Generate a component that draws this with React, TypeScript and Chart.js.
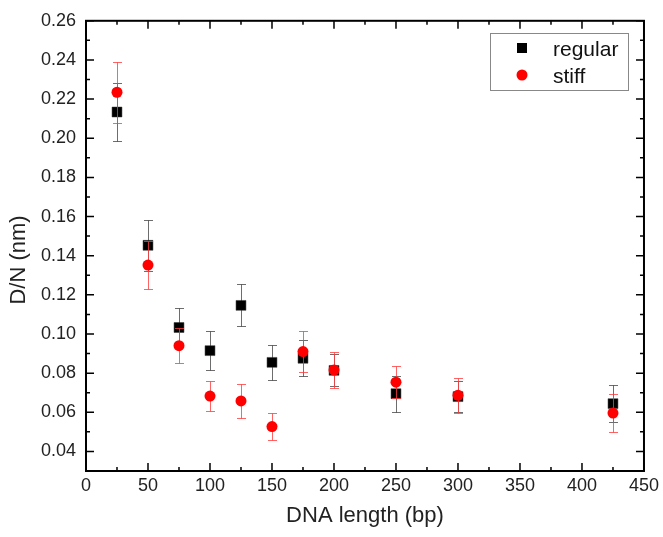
import React, { useEffect, useRef } from 'react';
import { Chart, registerables } from 'chart.js';
Chart.register(...registerables);

const lengths = [25, 50, 75, 100, 125, 150, 175, 200, 250, 300, 425];
const regularValues = [0.2134, 0.1453, 0.1033, 0.0915, 0.1146, 0.0855, 0.0876, 0.0814, 0.0695, 0.068, 0.0644];
const regularErrors = [0.015, 0.013, 0.01, 0.01, 0.0107, 0.0088, 0.0092, 0.0082, 0.0092, 0.008, 0.0095];
const stiffValues = [0.2235, 0.1352, 0.094, 0.0683, 0.0658, 0.0527, 0.091, 0.0816, 0.0754, 0.0687, 0.0596];
const stiffErrors = [0.0155, 0.0124, 0.009, 0.0075, 0.0087, 0.007, 0.0105, 0.0093, 0.008, 0.009, 0.0099];
const xTickValues = [0, 50, 100, 150, 200, 250, 300, 350, 400, 450];
const yTickValues = [0.04, 0.06, 0.08, 0.1, 0.12, 0.14, 0.16, 0.18, 0.2, 0.22, 0.24, 0.26];
const seriesNames = ['regular', 'stiff'];
const xTitle = 'DNA length (bp)';
const yTitle = 'D/N (nm)';

const FONT = '"Liberation Sans", Arial, sans-serif';
const errorSets = [regularErrors, stiffErrors];
const errorColors = ['rgba(60,60,60,0.75)', 'rgba(255,60,60,0.8)'];

const errorBarPlugin = {
  id: 'errorBars',
  beforeDatasetDraw(chart: any, args: any) {
    const i = args.index;
    const errs = errorSets[i];
    if (!errs) return;
    const ctx = chart.ctx;
    const xs = chart.scales.x;
    const ys = chart.scales.y;
    const ds = chart.data.datasets[i];
    ctx.save();
    ctx.strokeStyle = errorColors[i];
    ctx.lineWidth = 1;
    ds.data.forEach((p: any, j: number) => {
      const x = Math.round(xs.getPixelForValue(p.x)) + 0.5;
      const yt = Math.round(ys.getPixelForValue(p.y + errs[j])) + 0.5;
      const yb = Math.round(ys.getPixelForValue(p.y - errs[j])) + 0.5;
      ctx.beginPath();
      ctx.moveTo(x, yt);
      ctx.lineTo(x, yb);
      ctx.moveTo(x - 4.5, yt);
      ctx.lineTo(x + 4.5, yt);
      ctx.moveTo(x - 4.5, yb);
      ctx.lineTo(x + 4.5, yb);
      ctx.stroke();
    });
    ctx.restore();
  },
};

const framePlugin = {
  id: 'frame',
  afterDraw(chart: any) {
    const ctx = chart.ctx;
    const { left, right, top, bottom } = chart.chartArea;
    const xs = chart.scales.x;
    const ys = chart.scales.y;
    ctx.save();
    ctx.strokeStyle = '#000';
    ctx.lineWidth = 1.5;
    const major = 8;
    const minor = 4;
    // x ticks (bottom & top, inward)
    for (let k = 0; k < xTickValues.length; k++) {
      const v = xTickValues[k];
      const px = xs.getPixelForValue(v);
      ctx.beginPath();
      ctx.moveTo(px, bottom);
      ctx.lineTo(px, bottom - major);
      ctx.moveTo(px, top);
      ctx.lineTo(px, top + major);
      ctx.stroke();
      if (k < xTickValues.length - 1) {
        const m = xs.getPixelForValue((v + xTickValues[k + 1]) / 2);
        ctx.beginPath();
        ctx.moveTo(m, bottom);
        ctx.lineTo(m, bottom - minor);
        ctx.moveTo(m, top);
        ctx.lineTo(m, top + minor);
        ctx.stroke();
      }
    }
    // y ticks
    for (let k = 0; k < yTickValues.length; k++) {
      const v = yTickValues[k];
      const py = ys.getPixelForValue(v);
      ctx.beginPath();
      ctx.moveTo(left, py);
      ctx.lineTo(left + major, py);
      ctx.moveTo(right, py);
      ctx.lineTo(right - major, py);
      ctx.stroke();
      const mids: number[] = [];
      if (k === 0) mids.push(v - 0.01);
      if (k < yTickValues.length - 1) mids.push((v + yTickValues[k + 1]) / 2);
      mids.forEach((mv) => {
        const m = ys.getPixelForValue(mv);
        ctx.beginPath();
        ctx.moveTo(left, m);
        ctx.lineTo(left + minor, m);
        ctx.moveTo(right, m);
        ctx.lineTo(right - minor, m);
        ctx.stroke();
      });
    }
    ctx.lineWidth = 2;
    ctx.strokeRect(left, top, right - left, bottom - top);

    // axis titles
    ctx.fillStyle = '#222';
    ctx.font = `22px ${FONT}`;
    ctx.textAlign = 'center';
    ctx.textBaseline = 'middle';
    ctx.fillText(xTitle, (left + right) / 2, 516);
    ctx.save();
    ctx.translate(19, 260);
    ctx.rotate(-Math.PI / 2);
    ctx.fillText(yTitle, 0, 0);
    ctx.restore();

    // legend
    const lx = 490, ly = 33, lw = 138, lh = 57;
    ctx.fillStyle = '#fff';
    ctx.fillRect(lx, ly, lw, lh);
    ctx.strokeStyle = '#888';
    ctx.lineWidth = 1;
    ctx.strokeRect(lx + 0.5, ly + 0.5, lw, lh);
    ctx.fillStyle = '#000';
    ctx.fillRect(517, 43, 10, 10);
    ctx.fillStyle = '#ff0000';
    ctx.beginPath();
    ctx.arc(522, 75, 5.5, 0, Math.PI * 2);
    ctx.fill();
    ctx.fillStyle = '#111';
    ctx.font = `21px ${FONT}`;
    ctx.textAlign = 'left';
    ctx.textBaseline = 'alphabetic';
    ctx.fillText(seriesNames[0], 553, 55.5);
    ctx.fillText(seriesNames[1], 553, 83);
    ctx.restore();
  },
};

export default function App() {
  const ref = useRef<HTMLCanvasElement | null>(null);
  useEffect(() => {
    if (!ref.current) return;
    const chart = new Chart(ref.current, {
      type: 'scatter',
      data: {
        datasets: [
          {
            label: seriesNames[0],
            data: lengths.map((x, i) => ({ x, y: regularValues[i] })),
            pointStyle: 'rect',
            pointRadius: 7,
            pointBackgroundColor: '#000',
            pointBorderColor: '#333',
            pointBorderWidth: 0.5,
            order: 2,
          },
          {
            label: seriesNames[1],
            data: lengths.map((x, i) => ({ x, y: stiffValues[i] })),
            pointStyle: 'circle',
            pointRadius: 5.5,
            pointBackgroundColor: '#ff0000',
            pointBorderColor: '#ff0000',
            pointBorderWidth: 0,
            order: 1,
          },
        ],
      },
      options: {
        responsive: false,
        animation: false,
        layout: { padding: { top: 15, right: 15, left: 0, bottom: 0 } },
        plugins: { legend: { display: false }, tooltip: { enabled: false } },
        scales: {
          x: {
            type: 'linear',
            min: 0,
            max: 450,
            afterBuildTicks: (s: any) => {
              s.ticks = xTickValues.map((v) => ({ value: v }));
            },
            afterFit: (s: any) => {
              s.height = 66;
            },
            ticks: {
              font: { family: FONT, size: 18 },
              color: '#222',
              padding: 4,
              maxRotation: 0,
              autoSkip: false,
            },
            grid: { display: false, drawTicks: false },
            border: { display: false },
          },
          y: {
            type: 'linear',
            min: 0.03,
            max: 0.26,
            afterBuildTicks: (s: any) => {
              s.ticks = yTickValues.map((v) => ({ value: v }));
            },
            afterFit: (s: any) => {
              s.width = 86;
            },
            ticks: {
              font: { family: FONT, size: 18 },
              color: '#222',
              padding: 10,
              autoSkip: false,
              callback: (v: any) => Number(v).toFixed(2),
            },
            grid: { display: false, drawTicks: false },
            border: { display: false },
          },
        },
      },
      plugins: [errorBarPlugin, framePlugin],
    });
    return () => chart.destroy();
  }, []);
  return (
    <div style={{ position: 'fixed', left: 0, top: 0, width: 663, height: 537, background: '#fff' }}>
      <canvas ref={ref} width={663} height={537} style={{ width: 663, height: 537, display: 'block' }} />
    </div>
  );
}
